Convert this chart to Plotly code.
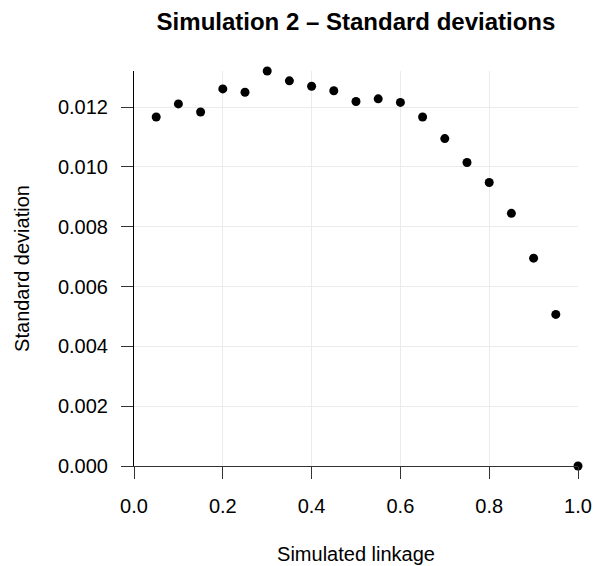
import plotly.graph_objects as go

linkage = [0.05, 0.10, 0.15, 0.20, 0.25, 0.30, 0.35, 0.40, 0.45, 0.50,
           0.55, 0.60, 0.65, 0.70, 0.75, 0.80, 0.85, 0.90, 0.95, 1.00]
std_dev = [0.01167, 0.01211, 0.01184, 0.01261, 0.01250, 0.01321, 0.01288, 0.01270, 0.01255, 0.01219,
           0.01228, 0.01216, 0.01167, 0.01095, 0.01015, 0.00948, 0.00845, 0.00695, 0.00507, 0.00000]
x_ticks = [0.0, 0.2, 0.4, 0.6, 0.8, 1.0]
x_ticklabels = ["0.0", "0.2", "0.4", "0.6", "0.8", "1.0"]
y_ticks = [0.000, 0.002, 0.004, 0.006, 0.008, 0.010, 0.012]
y_ticklabels = ["0.000", "0.002", "0.004", "0.006", "0.008", "0.010", "0.012"]

FONT = "Liberation Sans, Arial, sans-serif"
W, H = 597, 566
L, R, T, B = 134, 19, 71, 100

fig = go.Figure(go.Scatter(
    x=linkage, y=std_dev, mode="markers",
    marker=dict(color="black", size=9, line=dict(width=0)),
    cliponaxis=False, showlegend=False,
))

fig.update_layout(
    width=W, height=H,
    margin=dict(l=L, r=R, t=T, b=B, autoexpand=False),
    paper_bgcolor="white", plot_bgcolor="white",
    font=dict(family=FONT, size=20, color="black"),
    title=dict(text="<b>Simulation 2 – Standard deviations</b>",
               x=(L + (W - R)) / 2 / W, xanchor="center",
               y=1 - 22 / H, yanchor="middle",
               font=dict(size=24, color="black")),
)
fig.update_xaxes(
    range=[0, 1], tickvals=x_ticks, ticktext=x_ticklabels,
    automargin=False,
    showgrid=True, gridcolor="#ebebeb", gridwidth=1, zeroline=False,
    showline=True, linecolor="#333333", linewidth=1,
    ticks="outside", ticklen=12, tickcolor="#333333", tickwidth=1,
    ticklabelstandoff=10,
    tickfont=dict(size=20, color="black"),
    title=dict(text="Simulated linkage", standoff=30, font=dict(size=20)),
)
fig.update_yaxes(
    range=[0, max(std_dev)], tickvals=y_ticks, ticktext=y_ticklabels,
    automargin=False,
    showgrid=True, gridcolor="#ebebeb", gridwidth=1, zeroline=False,
    showline=True, linecolor="black", linewidth=1,
    ticks="outside", ticklen=12, tickcolor="#333333", tickwidth=1,
    ticklabelstandoff=9,
    tickfont=dict(size=20, color="black"),
    title=dict(text="Standard deviation", standoff=22, font=dict(size=20)),
)

fig.write_html("out.html", config={"displayModeBar": False},
               post_script="document.body.style.margin='0px';")
